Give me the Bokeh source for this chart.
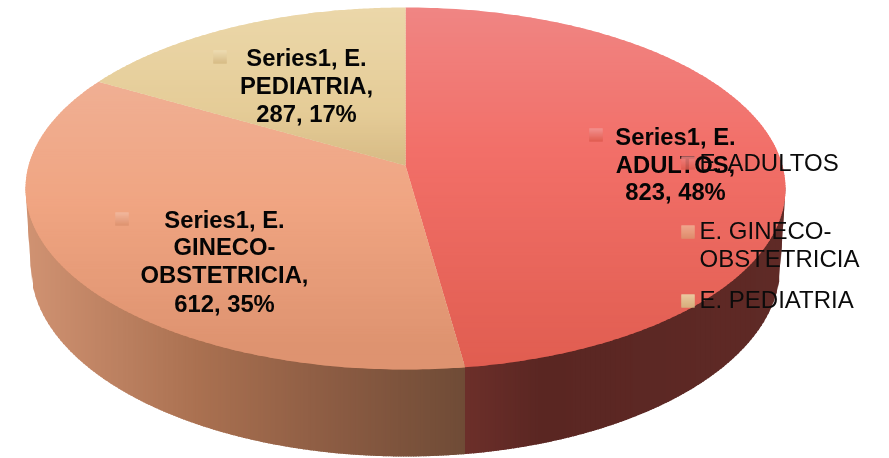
import numpy as np
from bokeh.core.properties import value
from bokeh.embed import file_html
from bokeh.models import Range1d
from bokeh.plotting import figure
from bokeh.resources import INLINE

# ---- data ----
categories = ["E. ADULTOS", "E. GINECO-OBSTETRICIA", "E. PEDIATRIA"]
series_name = "Series1"
values = [823, 612, 287]
percents = [48, 35, 17]
legend_lines = [["E. ADULTOS"], ["E. GINECO-", "OBSTETRICIA"], ["E. PEDIATRIA"]]
label_lines = [
    ["Series1, E.", "ADULTOS,", "823, 48%"],
    ["Series1, E.", "GINECO-", "OBSTETRICIA,", "612, 35%"],
    ["Series1, E.", "PEDIATRIA,", "287, 17%"],
]

# ---- style / geometry ----
W, H = 889, 458
CX, CY, RX, RY = 405.0, 188.0, 380.0, 181.0   # top rim
BCY, BRX, BRY = 265.0, 375.0, 191.0           # bottom rim
APEX_Y = 165.0
TOP_GRAD = [
    [(7, "#F08583"), (150, "#F26F68"), (368, "#E05D50")],
    [(82, "#F0AF93"), (200, "#F0A582"), (345, "#DE9370")],
    [(7, "#EBD7A9"), (110, "#E5CC97"), (165, "#D6BA84")],
]
SIDE_STOPS = [
    (25, "#D09272"), (200, "#A97050"), (330, "#8C5C43"), (464, "#6F4B36"),
    (465, "#6C2F2A"), (540, "#5A2622"), (785, "#5F2A26"),
]
LABEL_POS = [(675, [136, 164, 191]), (224, [219, 246, 274, 303]), (306, [57, 85, 113])]
LABEL_MARK = [(589, 128), (115, 212), (213, 50)]
LEGEND_MARK_X = 681
LEGEND_MARK_Y = [156, 225, 294]
LEGEND_TEXT_X = 699
LEGEND_TEXT_Y = [[162], [230, 258], [299]]
FONT = "Liberation Sans"


def hex2rgb(c):
    return np.array([int(c[i:i + 2], 16) for i in (1, 3, 5)], float)


def mix(c0, c1, t):
    t = min(max(t, 0.0), 1.0)
    r = hex2rgb(c0) * (1 - t) + hex2rgb(c1) * t
    return "#%02x%02x%02x" % tuple(int(round(v)) for v in r)


def ramp(stops, x):
    for (x0, c0), (x1, c1) in zip(stops, stops[1:]):
        if x <= x1:
            return mix(c0, c1, (x - x0) / (x1 - x0))
    return stops[-1][1]


def rim(theta):
    """Angle clockwise from the top -> screen, with perspective moving the pie centre."""
    a = (CY - APEX_Y) / RY
    u, v = np.sin(theta), np.cos(theta)
    den = 1 + a * v
    return CX + RX * u * np.sqrt(1 - a * a) / den, CY - RY * (v + a) / den


def clip(xs, ys, y0, y1):
    def half(pts, keep, cross):
        out = []
        for i in range(len(pts)):
            p, q = pts[i], pts[(i + 1) % len(pts)]
            if keep(p):
                out.append(p)
            if keep(p) != keep(q):
                t = (cross - p[1]) / (q[1] - p[1])
                out.append((p[0] + t * (q[0] - p[0]), cross))
        return out
    pts = list(zip(xs, ys))
    pts = half(pts, lambda p: p[1] >= y0, y0)
    if pts:
        pts = half(pts, lambda p: p[1] <= y1, y1)
    return pts


def top_y(x):
    return CY + RY * np.sqrt(max(1 - ((x - CX) / RX) ** 2, 0))


def bot_y(x):
    d = abs(x - CX)
    if d <= BRX:
        return BCY + BRY * np.sqrt(1 - (d / BRX) ** 2)
    return CY + (BCY - CY) * (RX - d) / (RX - BRX)


p = figure(width=W, height=H, output_backend="svg", toolbar_location=None,
           x_range=Range1d(0, W), y_range=Range1d(H, 0), min_border=0)
p.axis.visible = False
p.grid.visible = False
p.outline_line_color = None
p.background_fill_color = "white"
p.border_fill_color = "white"
p.styles = {"position": "fixed", "left": "0px", "top": "0px"}

# side wall: overlapping columns, painted left to right
total = sum(values)
fractions = np.cumsum([0] + values) / total
angles = 2 * np.pi * fractions
edge_x = rim(angles[1])[0]
sx, sy, sc = [], [], []
cols = sorted(set(list(np.arange(CX - RX, CX + RX + 0.1, 2.5)) + [edge_x, CX + RX]))
for x0, x1 in zip(cols, cols[1:]):
    x2 = min(x1 + 1.2, CX + RX)
    sx.append([x0, x2, x2, x0])
    sy.append([top_y(x0) - 3, top_y(x2) - 3, bot_y(x2), bot_y(x0)])
    sc.append(ramp(SIDE_STOPS, x0) if x0 < edge_x else ramp(SIDE_STOPS, max(x0, 465)))
p.patches(sx, sy, fill_color=sc, line_color=None)

# top faces: overlapping bands, painted top to bottom
for i in range(len(values)):
    fx, fy, fc = [], [], []
    th = np.linspace(angles[i], angles[i + 1], 160)
    rx_, ry_ = rim(th)
    px = np.r_[CX, rx_]
    py = np.r_[APEX_Y, ry_]
    y = float(py.min())
    while y < py.max():
        pts = clip(px, py, y, y + 3.7)
        if len(pts) >= 3:
            fx.append([q[0] for q in pts])
            fy.append([q[1] for q in pts])
            fc.append(ramp(TOP_GRAD[i], y))
        y += 2.5
    p.patches(fx, fy, fill_color=fc, line_color=None)


def swatch(x, y, i, size=13, lighten=0.0):
    c0 = mix(TOP_GRAD[i][0][1], "#ffffff", lighten)
    c1 = TOP_GRAD[i][-1][1]
    n = 13
    for k in range(n):
        col = mix(c0, c1, k / (n - 1))
        p.quad(left=x, right=x + size, top=y + size * k / n, bottom=y + size * (k + 1) / n,
               fill_color=col, line_color=col, line_width=0.3)


# data labels
for i, lines in enumerate(label_lines):
    mx, my = LABEL_MARK[i]
    swatch(mx, my, i, lighten=0.12)
    xc, ys = LABEL_POS[i]
    p.text([xc] * len(lines), ys, text=lines, text_align="center", text_baseline="middle",
           text_font=value(FONT), text_font_style="bold", text_font_size="23.8px", text_color="#050505")

# legend
for i, lines in enumerate(legend_lines):
    swatch(LEGEND_MARK_X, LEGEND_MARK_Y[i], i)
    p.text([LEGEND_TEXT_X] * len(lines), LEGEND_TEXT_Y[i], text=lines, text_align="left",
           text_baseline="middle", text_font=value(FONT), text_font_size="24px", text_color="#0b0b0b")

open("out.html", "w").write(file_html(p, INLINE))
